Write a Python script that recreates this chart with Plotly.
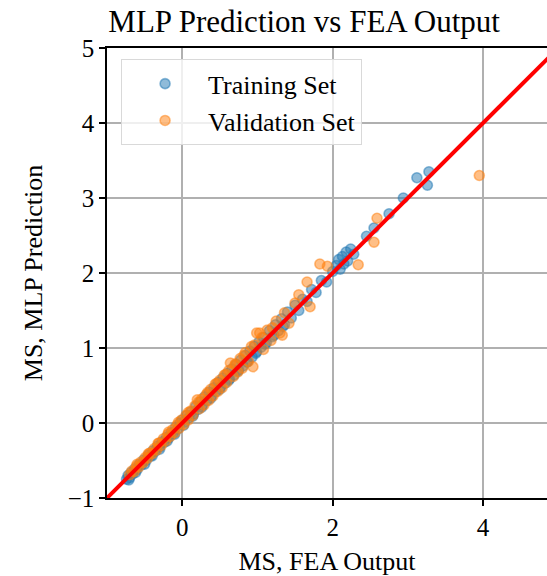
import plotly.graph_objects as go

train_x = [-0.74, -0.72, -0.70, -0.68, -0.66, -0.63, -0.60, -0.57, -0.54, -0.51, -0.48, -0.45, -0.42, -0.39,
           -0.36, -0.33, -0.30, -0.27, -0.24, -0.21, -0.18, -0.15, -0.12, -0.09, -0.06, -0.03, 0.00, 0.03,
           0.06, 0.09, 0.12, 0.15, 0.18, 0.21, 0.24, 0.27, 0.30, 0.33, 0.36, 0.39, 0.42, 0.45, 0.48, 0.51,
           0.54, 0.57, 0.60, 0.63, 0.66, 0.69, 0.72, 0.75, 0.78, 0.81, 0.84, 0.87, 0.90, 0.93, 0.96, 0.99,
           1.02, 1.05, 1.08, 1.12, 1.16, 1.20, 1.24, 1.28, 1.32, 1.36, 1.40, 1.45, 1.50, 1.55, 1.60, 1.66,
           1.72, 1.78, 1.85, 1.92, 2.00, 2.05, 2.08, 2.10, 2.13, 2.15, 2.18, 2.20, 2.24, 2.28, 2.45, 2.55,
           2.75, 2.94, 3.12, 3.26, 3.28, -0.71, -0.62, -0.50, -0.40, -0.30, -0.20, -0.10, 0.02, 0.14, 0.26,
           0.38, 0.50, 0.62, 0.74, 0.86, 0.98, 1.10, 1.22, 1.34]
train_y = [-0.75, -0.70, -0.73, -0.66, -0.68, -0.61, -0.62, -0.55, -0.56, -0.49, -0.50, -0.43, -0.44, -0.37,
           -0.38, -0.31, -0.32, -0.25, -0.26, -0.19, -0.20, -0.13, -0.14, -0.06, -0.08, 0.00, 0.04, 0.01,
           0.10, 0.07, 0.15, 0.12, 0.22, 0.18, 0.28, 0.24, 0.35, 0.30, 0.41, 0.36, 0.47, 0.42, 0.54, 0.48,
           0.60, 0.53, 0.66, 0.59, 0.72, 0.64, 0.78, 0.71, 0.84, 0.76, 0.90, 0.82, 0.96, 0.88, 1.02, 0.95,
           1.08, 1.01, 1.14, 1.07, 1.23, 1.15, 1.31, 1.23, 1.39, 1.31, 1.48, 1.40, 1.57, 1.50, 1.65, 1.62,
           1.78, 1.74, 1.90, 1.88, 2.02, 2.10, 2.18, 2.05, 2.22, 2.12, 2.28, 2.16, 2.32, 2.25, 2.49, 2.60,
           2.79, 3.00, 3.27, 3.17, 3.35, -0.76, -0.66, -0.55, -0.44, -0.35, -0.24, -0.15, -0.03, 0.09, 0.21,
           0.33, 0.45, 0.57, 0.69, 0.81, 0.93, 1.05, 1.17, 1.29]

val_x = [-0.70, -0.67, -0.64, -0.61, -0.58, -0.55, -0.52, -0.49, -0.46, -0.43, -0.40, -0.37, -0.34, -0.31,
         -0.28, -0.25, -0.22, -0.19, -0.16, -0.13, -0.10, -0.07, -0.04, -0.01, 0.02, 0.05, 0.08, 0.11,
         0.14, 0.17, 0.20, 0.23, 0.26, 0.29, 0.32, 0.35, 0.38, 0.41, 0.44, 0.47, 0.50, 0.53, 0.56, 0.59,
         0.62, 0.64, 0.68, 0.71, 0.74, 0.77, 0.80, 0.84, 0.88, 0.92, 0.94, 0.99, 1.03, 1.08, 1.13, 1.18,
         1.25, 1.30, 1.33, 1.36, 1.42, 1.50, 1.55, 1.66, 1.70, 1.83, 1.93, 2.34, 2.55, 2.59, 3.95,
         -0.60, -0.45, -0.32, -0.18, -0.05, 0.08, 0.22, 0.34, 0.46, 0.58, 0.70, 0.82, 0.96, 1.06, 1.20]
val_y = [-0.69, -0.64, -0.65, -0.58, -0.59, -0.52, -0.53, -0.46, -0.47, -0.40, -0.41, -0.34, -0.36, -0.27,
         -0.30, -0.21, -0.24, -0.15, -0.18, -0.09, -0.13, -0.03, -0.07, 0.04, -0.02, 0.10, 0.04, 0.16,
         0.10, 0.23, 0.31, 0.19, 0.32, 0.24, 0.38, 0.30, 0.45, 0.36, 0.52, 0.42, 0.57, 0.47, 0.64, 0.54,
         0.70, 0.80, 0.62, 0.79, 0.68, 0.86, 0.73, 0.94, 0.82, 1.02, 0.75, 1.20, 1.20, 0.98, 1.24, 1.10,
         1.36, 1.20, 1.17, 1.47, 1.33, 1.60, 1.71, 1.88, 1.55, 2.12, 2.09, 2.11, 2.41, 2.73, 3.30,
         -0.55, -0.41, -0.27, -0.12, 0.01, 0.14, 0.28, 0.41, 0.53, 0.65, 0.77, 0.90, 1.04, 1.14, 1.27]

ideal = [-1, 5]

x_ticks = [0, 2, 4]
y_ticks = [-1, 0, 1, 2, 3, 4, 5]
y_tick_text = ["\u22121", "0", "1", "2", "3", "4", "5"]

FONT = "Liberation Serif, serif"
BLUE = "rgba(31,119,180,0.5)"
ORANGE = "rgba(255,127,14,0.5)"

fig = go.Figure()
fig.add_trace(go.Scatter(x=train_x, y=train_y, mode="markers", name="Training Set",
                         marker=dict(size=10, color=BLUE, line=dict(color=BLUE, width=1.6))))
fig.add_trace(go.Scatter(x=val_x, y=val_y, mode="markers", name="Validation Set",
                         marker=dict(size=10, color=ORANGE, line=dict(color=ORANGE, width=1.6))))
fig.add_trace(go.Scatter(x=ideal, y=ideal, mode="lines", showlegend=False,
                         line=dict(color="red", width=4)))

fig.update_layout(
    width=547, height=576,
    margin=dict(l=107, r=0, t=48, b=78),
    plot_bgcolor="white", paper_bgcolor="white",
    font=dict(family=FONT, size=24, color="black"),
    title=dict(text="MLP Prediction vs FEA Output", x=0.448, xref="paper", xanchor="center",
               y=1, yref="container", yanchor="top", pad=dict(t=10),
               font=dict(family=FONT, size=31, color="black")),
    legend=dict(x=0.032, y=0.975, xanchor="left", yanchor="top", itemwidth=76,
                bgcolor="rgba(255,255,255,0.8)", bordercolor="#d9d9d9", borderwidth=1,
                font=dict(family=FONT, size=26, color="black")),
    showlegend=True,
)
fig.update_xaxes(range=[-1, 4.85], tickvals=x_ticks, showgrid=True, gridcolor="#b0b0b0", gridwidth=1.5,
                 zeroline=False, showline=True, linecolor="black", linewidth=1.5, mirror=True,
                 ticks="outside", ticklen=6, tickwidth=1.5, tickcolor="black",
                 tickfont=dict(family=FONT, size=25, color="black"),
                 title=dict(text="MS, FEA Output", font=dict(family=FONT, size=26, color="black"), standoff=14))
fig.update_yaxes(range=[-1, 5], tickmode="array", tickvals=y_ticks, ticktext=y_tick_text,
                 showgrid=True, gridcolor="#b0b0b0", gridwidth=1.5,
                 zeroline=False, showline=True, linecolor="black", linewidth=1.5,
                 ticks="outside", ticklen=6, tickwidth=1.5, tickcolor="black",
                 tickfont=dict(family=FONT, size=25, color="black"),
                 title=dict(text="MS, MLP Prediction", font=dict(family=FONT, size=26, color="black"), standoff=18))

fig.write_html("out.html")
